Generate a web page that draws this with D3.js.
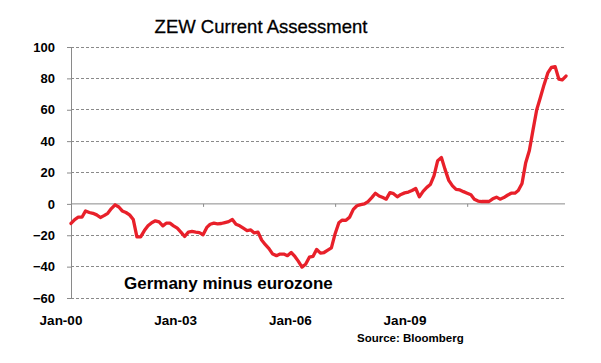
<!DOCTYPE html>
<html><head><meta charset="utf-8">
<script src="https://cdn.jsdelivr.net/npm/d3@7"></script>
<style>body{margin:0;background:#fff}svg{display:block}</style>
</head><body>
<svg id="c" width="601" height="363"></svg>
<script>
// Data: monthly, Jan 2000 .. Apr 2011 (Germany minus eurozone, ZEW current assessment)
const startYear = 2000, startMonth = 0;
const values = [
 -12.5,-10,-8.5,-8.5,-4.5,-5.5,-6,-7,-8.7,-7.5,-6,-3,
 -0.6,-2,-4.5,-5.5,-7,-10,-21,-21,-17,-14,-12,-10.8,
 -11.5,-14,-12.3,-12.3,-14,-15.5,-18,-20.8,-18,-17.6,-18,-18.3,
 -19.7,-15,-13,-12.3,-12.7,-12.5,-11.9,-11.3,-10,-13,-14,-15.5,
 -17,-16.6,-18.5,-18,-23,-26,-28.5,-32,-33,-32,-32,-33,
 -31,-33.5,-36.5,-40.3,-38.5,-34,-33.5,-29,-31.4,-31,-29.5,-28,
 -19,-12,-10.3,-10.5,-8.5,-3.5,-1.2,-0.5,0,1.5,4,6.8,
 5,4,3,7.2,6.5,4.5,6,7,7.5,8.5,9.8,4.5,
 8,10.5,12.3,18,27.5,29.5,22,15,11.5,9.2,8.9,7.8,
 6.8,5.8,3,1.8,1.5,1.5,1.5,3.2,4.3,3,4,5.5,
 6.8,6.8,8.5,13,26,34,47,60,68,76,83.5,87,
 87.5,79.5,79,81.5
];
const yTicks = [-60,-40,-20,0,20,40,60,80,100];
const xTickYears = [2000,2003,2006,2009];
const xLabels = ["Jan-00","Jan-03","Jan-06","Jan-09"];
const title = "ZEW Current Assessment";
const note = "Germany minus eurozone";
const source = "Source: Bloomberg";

const dates = values.map((v,i)=>new Date(startYear, startMonth+i, 1));
const data = values.map((v,i)=>({d:dates[i], v}));

const svg = d3.select("#c");
const x = d3.scaleTime().domain([dates[0], dates[dates.length-1]]).range([71, 566]);
const y = d3.scaleLinear().domain([-60,100]).range([298, 47]);
const gridRight = 564;

// gridlines
svg.append("g").selectAll("line").data(yTicks.filter(t=>t!==0)).join("line")
  .attr("x1",71).attr("x2",gridRight)
  .attr("y1",d=>y(d)).attr("y2",d=>y(d))
  .attr("stroke","#8a8a8a").attr("stroke-width",1).attr("stroke-dasharray","3,2")
  .attr("shape-rendering","crispEdges");

// y axis
const yAxis = svg.append("g").attr("transform","translate(71,0)")
  .call(d3.axisLeft(y).tickValues(yTicks).tickSize(4).tickPadding(12).tickFormat(d3.format("d")));
yAxis.select(".domain").attr("stroke","#8a8a8a");
yAxis.selectAll(".tick line").attr("stroke","#8a8a8a");
yAxis.selectAll("text").attr("font-family","Liberation Sans, Arial, sans-serif")
  .attr("font-weight","bold").attr("font-size","13px").attr("fill","#000");

// zero axis with ticks
const xAxis = svg.append("g").attr("transform",`translate(0,${y(0)})`)
  .call(d3.axisBottom(x).tickValues(xTickYears.map(yr=>new Date(yr,0,1))).tickSize(3).tickFormat(""));
xAxis.select(".domain").attr("stroke","#8a8a8a").attr("d",`M71,0H${gridRight+1}`);
xAxis.selectAll(".tick line").attr("stroke","#8a8a8a");

// x labels
const lx = d3.scalePoint().domain(xLabels).range([61,405]);
svg.append("g").selectAll("text").data(xLabels).join("text")
  .attr("x",d=>lx(d)).attr("y",325).attr("text-anchor","middle")
  .attr("font-family","Liberation Sans, Arial, sans-serif").attr("font-weight","bold")
  .attr("font-size","13.5px").text(d=>d);

// line
svg.append("path").datum(data)
  .attr("fill","none").attr("stroke","#e8202a").attr("stroke-width",3.3)
  .attr("stroke-linejoin","round").attr("stroke-linecap","round")
  .attr("d", d3.line().x(d=>x(d.d)).y(d=>y(d.v)));

// title
svg.append("text").attr("x",261).attr("y",33).attr("text-anchor","middle")
  .attr("font-family","Liberation Sans, Arial, sans-serif").attr("font-size","18.5px")
  .attr("stroke","#000").attr("stroke-width",0.3)
  .text(title);

// annotation
svg.append("text").attr("x",124).attr("y",289)
  .attr("font-family","Liberation Sans, Arial, sans-serif").attr("font-weight","bold")
  .attr("font-size","17px").text(note);

svg.append("text").attr("x",357).attr("y",342)
  .attr("font-family","Liberation Sans, Arial, sans-serif").attr("font-weight","bold")
  .attr("font-size","11.5px").text(source);
</script>
</body></html>
